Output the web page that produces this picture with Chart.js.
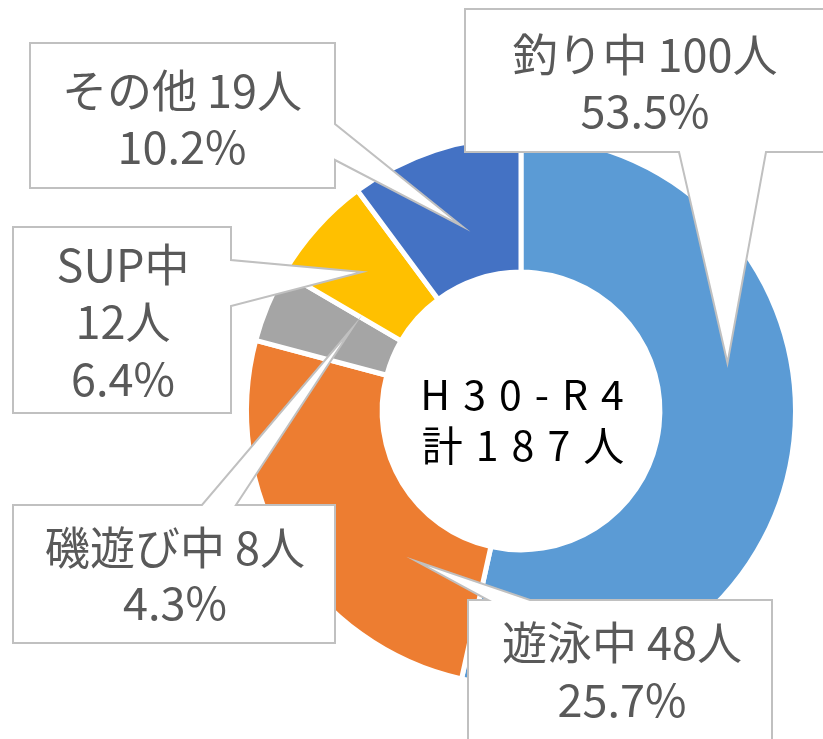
<!DOCTYPE html>
<html>
<head>
<meta charset="utf-8">
<script src="https://cdn.jsdelivr.net/npm/chart.js@4/dist/chart.umd.min.js"></script>
<style>
html,body{margin:0;padding:0;background:#ffffff;}
#wrap{width:823px;height:739px;position:relative;}
</style>
</head>
<body>
<div id="wrap"><canvas id="c"></canvas></div>
<script>
// ---- data ----
const categories = ['釣り中', '遊泳中', '磯遊び中', 'SUP中', 'その他'];
const counts = [100, 48, 8, 12, 19];
const sliceColors = ['#5B9BD5', '#ED7D31', '#A5A5A5', '#FFC000', '#4472C4'];
const centerLines = ['H30-R4', '計187人'];

// ---- callout layout (annotation boxes, pointer tips in polar coords around the chart centre) ----
const calloutLayout = [
  { box:{x:465,y:9,w:370,h:143},  side:'bottom', base:[679,766], tipDeg:76.9,  tipR:212, text:{cx:645,y0:72,lh:56}, stacked:false },
  { box:{x:468,y:600,w:304,h:150}, side:'top',   base:[488,530], tipDeg:214.6, tipR:183, text:{cx:622,y0:660,lh:57}, stacked:false },
  { box:{x:13,y:505,w:322,h:138}, side:'top',    base:[202,236], tipDeg:296.2, tipR:188, text:{cx:175,y0:565,lh:55}, stacked:false },
  { box:{x:13,y:227,w:218,h:186}, side:'right',  base:[260,306], tipDeg:311.2, tipR:211, text:{cx:123,y0:282,lh:57}, stacked:true },
  { box:{x:30,y:43,w:305,h:145},  side:'right',  base:[124,160], tipDeg:342.3, tipR:194, text:{cx:182,y0:108,lh:56}, stacked:false }
];

const total = counts.reduce((a, b) => a + b, 0);
function labelLines(i) {
  const pct = (counts[i] / total * 100).toFixed(1) + '%';
  if (calloutLayout[i].stacked) return [categories[i], counts[i] + '人', pct];
  return [categories[i] + ' ' + counts[i] + '人', pct];
}

const calloutPlugin = {
  id: 'callouts',
  afterDatasetsDraw(chart) {
    const ctx = chart.ctx;
    const meta = chart.getDatasetMeta(0);
    const cx = meta.data[0].x, cy = meta.data[0].y;
    ctx.save();
    calloutLayout.forEach((c, i) => {
      const t = c.tipDeg * Math.PI / 180;
      const tx = cx + c.tipR * Math.sin(t);
      const ty = cy - c.tipR * Math.cos(t);
      const {x, y, w, h} = c.box;
      const [a, b] = c.base;
      let pts;
      switch (c.side) {
        case 'bottom': pts = [[x,y],[x+w,y],[x+w,y+h],[b,y+h],[tx,ty],[a,y+h],[x,y+h]]; break;
        case 'right':  pts = [[x,y],[x+w,y],[x+w,a],[tx,ty],[x+w,b],[x+w,y+h],[x,y+h]]; break;
        case 'top':    pts = [[x,y],[a,y],[tx,ty],[b,y],[x+w,y],[x+w,y+h],[x,y+h]]; break;
        default:       pts = [[x,y],[x+w,y],[x+w,y+h],[x,y+h],[x,b],[tx,ty],[x,a]];
      }
      ctx.beginPath();
      pts.forEach((p, k) => k ? ctx.lineTo(p[0], p[1]) : ctx.moveTo(p[0], p[1]));
      ctx.closePath();
      ctx.fillStyle = '#ffffff';
      ctx.fill();
      ctx.lineWidth = 2;
      ctx.lineJoin = 'miter';
      ctx.miterLimit = 20;
      ctx.strokeStyle = '#C0C0C0';
      ctx.stroke();
      ctx.fillStyle = '#595959';
      ctx.font = '45px "Noto Sans CJK JP", "Noto Sans", sans-serif';
      ctx.textAlign = 'center';
      ctx.textBaseline = 'alphabetic';
      labelLines(i).forEach((s, k) => ctx.fillText(s, c.text.cx, c.text.y0 + k * c.text.lh));
    });
    // centre text (spaced characters)
    const spacing = 13;
    ctx.fillStyle = '#000000';
    ctx.font = '41px "Noto Sans CJK JP", sans-serif';
    ctx.textAlign = 'center';
    if ('letterSpacing' in ctx) {
      ctx.letterSpacing = spacing + 'px';
      ctx.fillText(centerLines[0], cx + 1 + spacing / 2, cy - 1);
      ctx.fillText(centerLines[1], cx + 2 + spacing / 2, cy + 50);
      ctx.letterSpacing = '0px';
    } else {
      ctx.fillText(centerLines[0], cx + 1, cy - 1);
      ctx.fillText(centerLines[1], cx + 2, cy + 50);
    }
    ctx.restore();
  }
};

new Chart(document.getElementById('c'), {
  type: 'doughnut',
  data: {
    labels: categories,
    datasets: [{
      data: counts,
      backgroundColor: sliceColors,
      borderColor: '#ffffff',
      borderWidth: 5,
      hoverBorderWidth: 5,
      hoverOffset: 0,
      offset: 0
    }]
  },
  options: {
    responsive: true,
    maintainAspectRatio: false,
    animation: false,
    events: [],
    cutout: '50.6%',
    rotation: 0,
    layout: { padding: { left: 244, right: 25, top: 134, bottom: 51 } },
    plugins: { legend: { display: false }, tooltip: { enabled: false } }
  },
  plugins: [calloutPlugin]
});
</script>
</body>
</html>
